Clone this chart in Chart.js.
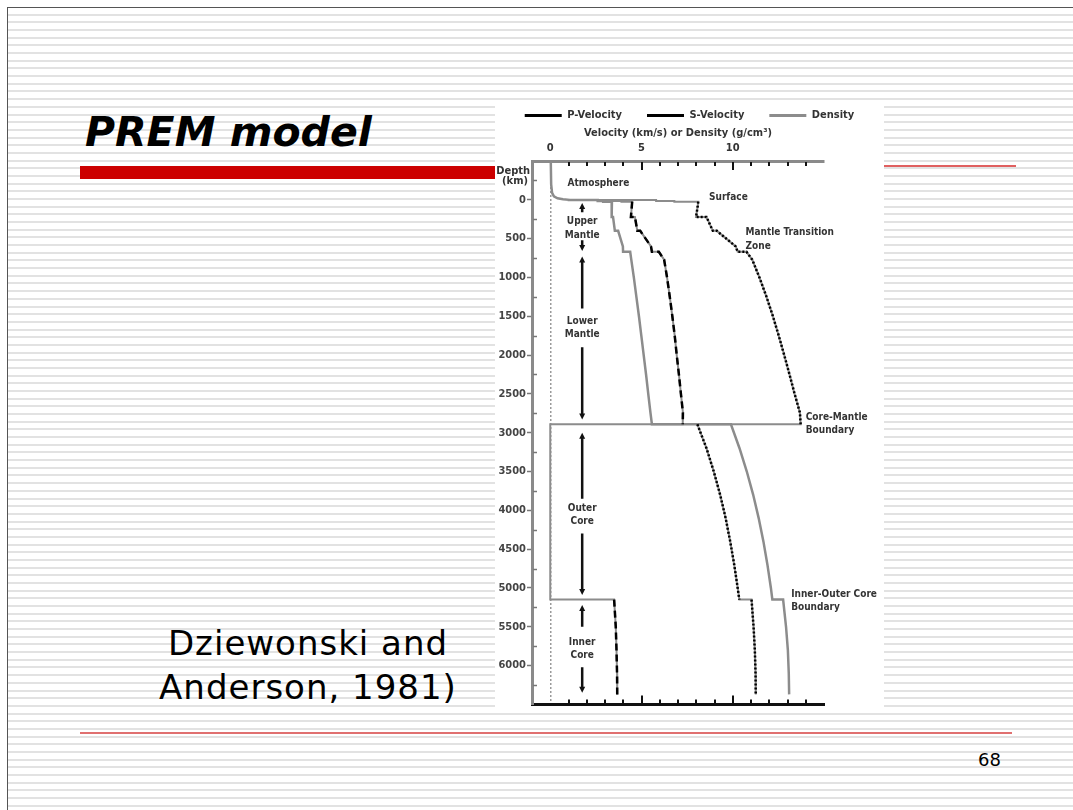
<!DOCTYPE html>
<html>
<head>
<meta charset="utf-8">
<title>PREM model</title>
<script src="https://cdn.jsdelivr.net/npm/chart.js@4.4.0/dist/chart.umd.min.js"></script>
<style>
  html, body { margin: 0; padding: 0; background: #fff; }
  #slide { position: relative; width: 1073px; height: 810px; overflow: hidden; background: #fff; }
  #stripes {
    position: absolute; left: 8px; top: 8px; right: 0; bottom: 0;
    background: repeating-linear-gradient(to bottom, #fff 0px, #fff 5.68px, #e2e2e2 5.68px, #e2e2e2 7.68px);
  }
  #frameTop { position: absolute; left: 7px; top: 7px; right: 0; height: 1px; background: #555; }
  #frameLeft { position: absolute; left: 7px; top: 7px; bottom: 0; width: 1px; background: #555; }
  #title {
    position: absolute; left: 85px; top: 108px; line-height: 41px;
    font: italic bold 41px 'DejaVu Sans', sans-serif; color: #000; white-space: nowrap;
  }
  #redBar { position: absolute; left: 80px; top: 166px; width: 415px; height: 13px; background: #cc0000; }
  #redTop { position: absolute; left: 884px; top: 165px; width: 132px; height: 2px; background: #e06060; }
  #redBottom { position: absolute; left: 80px; top: 732px; width: 932px; height: 2px; background: #e07070; }
  #cite {
    position: absolute; left: 108px; top: 621px; width: 400px; text-align: center;
    font: 34px 'DejaVu Sans', sans-serif; line-height: 44px; letter-spacing: 1px; color: #000;
  }
  #pageNo { position: absolute; left: 978px; top: 751px; font: 18px 'DejaVu Sans', sans-serif; line-height: 18px; color: #000; }
  #chartBox { position: absolute; left: 495px; top: 103px; width: 389px; height: 609px; background: #fff; overflow: hidden; }
  #chartBox canvas { position: absolute; left: 0; top: -18px; }
</style>
</head>
<body>
<div id="slide">
  <div id="stripes"></div>
  <div id="frameTop"></div>
  <div id="frameLeft"></div>
  <div id="redTop"></div>
  <div id="redBar"></div>
  <div id="title">PREM model</div>
  <div id="cite">Dziewonski and<br>Anderson, 1981)</div>
  <div id="redBottom"></div>
  <div id="pageNo">68</div>
  <div id="chartBox"><canvas id="premChart" width="389" height="627"></canvas></div>
</div>
<script>
// depth (km) and values
const pDepth = [0, 3, 3, 15, 15, 24, 24, 80, 220, 220, 400, 400, 600, 670, 670, 771,
  1000, 1250, 1500, 1750, 2000, 2250, 2500, 2741, 2891,
  2891, 3200, 3500, 3800, 4100, 4400, 4700, 5000, 5150,
  5150, 5500, 5800, 6100, 6371];
const pVel = [1.45, 1.45, 5.8, 5.8, 6.8, 6.8, 8.11, 8.08, 7.99, 8.56, 8.91, 9.13, 10.16, 10.27, 10.75, 11.07,
  11.46, 11.85, 12.2, 12.52, 12.82, 13.11, 13.39, 13.68, 13.72,
  8.06, 8.56, 8.96, 9.31, 9.61, 9.86, 10.08, 10.27, 10.36,
  11.03, 11.14, 11.21, 11.25, 11.26];

const sDepth = [3, 15, 15, 24, 24, 80, 220, 220, 400, 400, 600, 670, 670, 771,
  1000, 1250, 1500, 1750, 2000, 2250, 2500, 2741, 2891,
  2891, 5150, 5150, 5500, 5800, 6100, 6371];
const sVel = [3.2, 3.2, 3.9, 3.9, 4.49, 4.47, 4.42, 4.64, 4.77, 4.93, 5.52, 5.57, 5.95, 6.24,
  6.40, 6.55, 6.69, 6.82, 6.93, 7.05, 7.16, 7.27, 7.26,
  0, 0, 3.50, 3.59, 3.63, 3.66, 3.67];

const rhoDepth = [-480, -200, -90, -45, -20, -8, 0, 3, 3, 15, 15, 24, 24,
  80, 220, 220, 400, 400, 600, 670, 670, 771,
  1000, 1250, 1500, 1750, 2000, 2250, 2500, 2741, 2891,
  2891, 3200, 3500, 3800, 4100, 4400, 4700, 5000, 5150,
  5150, 5500, 5800, 6100, 6371];
const rhoVal = [0.03, 0.05, 0.1, 0.2, 0.4, 0.7, 1.02, 1.02, 2.6, 2.6, 2.9, 2.9, 3.38,
  3.37, 3.36, 3.44, 3.54, 3.72, 3.98, 3.99, 4.38, 4.44,
  4.58, 4.72, 4.86, 4.99, 5.12, 5.25, 5.37, 5.49, 5.57,
  9.90, 10.37, 10.77, 11.12, 11.42, 11.68, 11.90, 12.09, 12.17,
  12.76, 12.92, 13.02, 13.07, 13.09];

const legendNames = ['P-Velocity', 'S-Velocity', 'Density'];
const legendColors = ['#000', '#000', '#8c8c8c'];
const xTickLabels = [0, 5, 10];

// region labels (x in km/s, depth of first line in km)
const noteText = [['Atmosphere'], ['Surface'], ['Upper', 'Mantle'], ['Mantle Transition', 'Zone'],
  ['Lower', 'Mantle'], ['Core-Mantle', 'Boundary'], ['Outer', 'Core'],
  ['Inner-Outer Core', 'Boundary'], ['Inner', 'Core']];
const noteX = [0.95, 8.7, 1.75, 10.7, 1.75, 14.0, 1.75, 13.2, 1.75];
const noteDepth = [-215, -25, 280, 420, 1565, 2800, 3970, 5080, 5700];
const noteAlign = ['left', 'left', 'center', 'left', 'center', 'left', 'center', 'left', 'center'];

// layer arrows: top, gap around label, bottom (km)
const arrowX = 1.75;
const arrowTop = [40, 730, 3000, 5220];
const arrowGapTop = [160, 1400, 3850, 5500];
const arrowGapBottom = [520, 1900, 4300, 6020];
const arrowBottom = [660, 2830, 5090, 6350];

const toPoints = (xs, ds) => xs.map((v, i) => ({ x: v, y: ds[i] }));
const pPts = toPoints(pVel, pDepth);
const sPts = toPoints(sVel, sDepth);
const rhoPts = toPoints(rhoVal, rhoDepth);

// black dashes only on the continuous parts, the jumps stay grey
function overlayColor(c) {
  const a = c.p0.parsed, b = c.p1.parsed;
  if (b.y <= 24) return 'transparent';
  if (a.y === b.y && a.y > 2000) return 'transparent';
  if (a.x === 0 && b.x === 0) return 'transparent';
  return '#000';
}

const FONT = "'DejaVu Sans Condensed', 'DejaVu Sans', sans-serif";
Chart.defaults.font.family = FONT;
Chart.defaults.font.size = 11;
Chart.defaults.font.weight = 'bold';
Chart.defaults.color = '#333';

function drawArrowHead(ctx, x, y, dir) {
  ctx.beginPath();
  ctx.moveTo(x, y);
  ctx.lineTo(x - 3, y - dir * 6);
  ctx.lineTo(x + 3, y - dir * 6);
  ctx.closePath();
  ctx.fill();
}

const premNotes = {
  id: 'premNotes',
  afterDatasetsDraw(chart) {
    const { ctx, chartArea, scales } = chart;
    const x = scales.x, y = scales.y;
    ctx.save();

    // inward ticks on top and bottom axes
    ctx.strokeStyle = '#111';
    ctx.lineWidth = 2;
    x.ticks.forEach(t => {
      if (t.value <= 0 || t.value >= 15) return;
      const px = Math.round(x.getPixelForValue(t.value));
      const len = t.value % 5 === 0 ? 8 : 4;
      ctx.beginPath();
      ctx.moveTo(px, chartArea.top + 1);
      ctx.lineTo(px, chartArea.top + 1 + len);
      ctx.moveTo(px, chartArea.bottom - 1);
      ctx.lineTo(px, chartArea.bottom - 1 - len);
      ctx.stroke();
    });

    // minor depth ticks point inward
    ctx.strokeStyle = '#777';
    ctx.lineWidth = 1.5;
    y.ticks.forEach(t => {
      if (t.value % 500 === 0) return;
      const py = Math.round(y.getPixelForValue(t.value)) + 0.5;
      ctx.beginPath();
      ctx.moveTo(chartArea.left + 1, py);
      ctx.lineTo(chartArea.left + 5, py);
      ctx.stroke();
    });

    // Depth (km) caption
    ctx.fillStyle = '#333';
    ctx.font = 'bold 11px ' + FONT;
    ctx.textAlign = 'right';
    ctx.textBaseline = 'middle';
    ctx.fillText('Depth', chartArea.left - 2, y.getPixelForValue(-375));
    ctx.fillText('(km)', chartArea.left - 4, y.getPixelForValue(-240));

    // layer arrows
    ctx.strokeStyle = '#111';
    ctx.fillStyle = '#111';
    ctx.lineWidth = 2.5;
    const ax = x.getPixelForValue(arrowX);
    arrowTop.forEach((top, i) => {
      const y0 = y.getPixelForValue(top);
      const y1 = y.getPixelForValue(arrowGapTop[i]);
      const y2 = y.getPixelForValue(arrowGapBottom[i]);
      const y3 = y.getPixelForValue(arrowBottom[i]);
      ctx.beginPath();
      ctx.moveTo(ax, y0 + 4);
      ctx.lineTo(ax, y1);
      ctx.moveTo(ax, y2);
      ctx.lineTo(ax, y3 - 4);
      ctx.stroke();
      drawArrowHead(ctx, ax, y0, -1);
      drawArrowHead(ctx, ax, y3, 1);
    });

    // region labels
    ctx.fillStyle = '#333';
    ctx.font = 'bold 10px ' + FONT;
    noteText.forEach((lines, i) => {
      ctx.textAlign = noteAlign[i];
      const px = x.getPixelForValue(noteX[i]);
      const py = y.getPixelForValue(noteDepth[i]);
      lines.forEach((line, k) => ctx.fillText(line, px, py + k * 13.5));
    });
    ctx.restore();
  }
};

const lineBase = { showLine: true, pointRadius: 0, pointHoverRadius: 0, tension: 0, fill: false };

new Chart(document.getElementById('premChart').getContext('2d'), {
  type: 'scatter',
  data: {
    datasets: [
      { ...lineBase, label: 'P-Velocity', data: pPts, borderColor: '#000', borderWidth: 2.5,
        borderDash: [2, 2], segment: { borderColor: overlayColor }, order: 0 },
      { ...lineBase, label: 'S-Velocity', data: sPts, borderColor: '#000', borderWidth: 2.5,
        borderDash: [7, 4], segment: { borderColor: overlayColor }, order: 0 },
      { ...lineBase, label: 'P grey', data: pPts, borderColor: '#8c8c8c', borderWidth: 2, order: 1 },
      { ...lineBase, label: 'S grey', data: sPts, borderColor: '#8c8c8c', borderWidth: 2, order: 1 },
      { ...lineBase, label: 'Density', data: rhoPts, borderColor: '#8c8c8c', borderWidth: 2.5, order: 1 }
    ]
  },
  options: {
    responsive: false,
    animation: false,
    devicePixelRatio: 1,
    layout: { padding: 0 },
    plugins: {
      tooltip: { enabled: false },
      legend: {
        position: 'top',
        maxHeight: 38,
        labels: {
          boxWidth: 37,
          boxHeight: 3,
          padding: 25,
          color: '#333',
          font: { size: 11, weight: 'bold' },
          generateLabels: () => legendNames.map((name, i) => ({
            text: name, fillStyle: legendColors[i], strokeStyle: legendColors[i],
            lineWidth: 0, hidden: false, datasetIndex: i, fontColor: '#333'
          }))
        }
      }
    },
    scales: {
      x: {
        type: 'linear',
        position: 'top',
        min: -1,
        max: 15,
        afterFit: s => { s.height = 38; },
        title: {
          display: true,
          text: 'Velocity (km/s) or Density (g/cm\u00b3)',
          padding: { top: 4, bottom: 0 },
          font: { size: 11, weight: 'bold' },
          color: '#333'
        },
        ticks: {
          stepSize: 1,
          autoSkip: false,
          maxRotation: 0,
          padding: 6,
          color: '#333',
          callback: v => xTickLabels.includes(v) ? String(v) : ''
        },
        grid: {
          display: true,
          drawOnChartArea: true,
          drawTicks: false,
          lineWidth: 1.5,
          color: c => (c.tick && c.tick.value === 0) ? '#9a9a9a' : 'transparent'
        },
        border: { display: true, color: '#8a8a8a', width: 3, dash: [2, 2] }
      },
      x2: {
        type: 'linear',
        position: 'bottom',
        min: -1,
        max: 15,
        afterFit: s => { s.height = 2; },
        ticks: { display: false, stepSize: 1 },
        grid: { display: false, drawTicks: false },
        border: { display: true, color: '#111', width: 3 }
      },
      y: {
        type: 'linear',
        reverse: true,
        min: -500,
        max: 6500,
        afterFit: s => { s.width = 37; },
        ticks: {
          stepSize: 250,
          autoSkip: false,
          padding: 1,
          color: '#444',
          callback: v => (v >= 0 && v <= 6000 && v % 500 === 0) ? String(v) : ''
        },
        grid: {
          display: true,
          drawOnChartArea: false,
          drawTicks: true,
          tickLength: 5,
          tickWidth: 1.5,
          tickColor: c => (c.tick && c.tick.value >= 0 && c.tick.value <= 6000 && c.tick.value % 500 === 0) ? '#777' : 'transparent'
        },
        border: { display: true, color: '#8a8a8a', width: 3 }
      },
      // empty right-hand band that holds the boundary labels
      yRight: {
        type: 'linear',
        position: 'right',
        display: true,
        afterFit: s => { s.width = 60; },
        ticks: { display: false },
        grid: { display: false, drawTicks: false },
        border: { display: false }
      }
    }
  },
  plugins: [premNotes]
});
</script>
</body>
</html>
